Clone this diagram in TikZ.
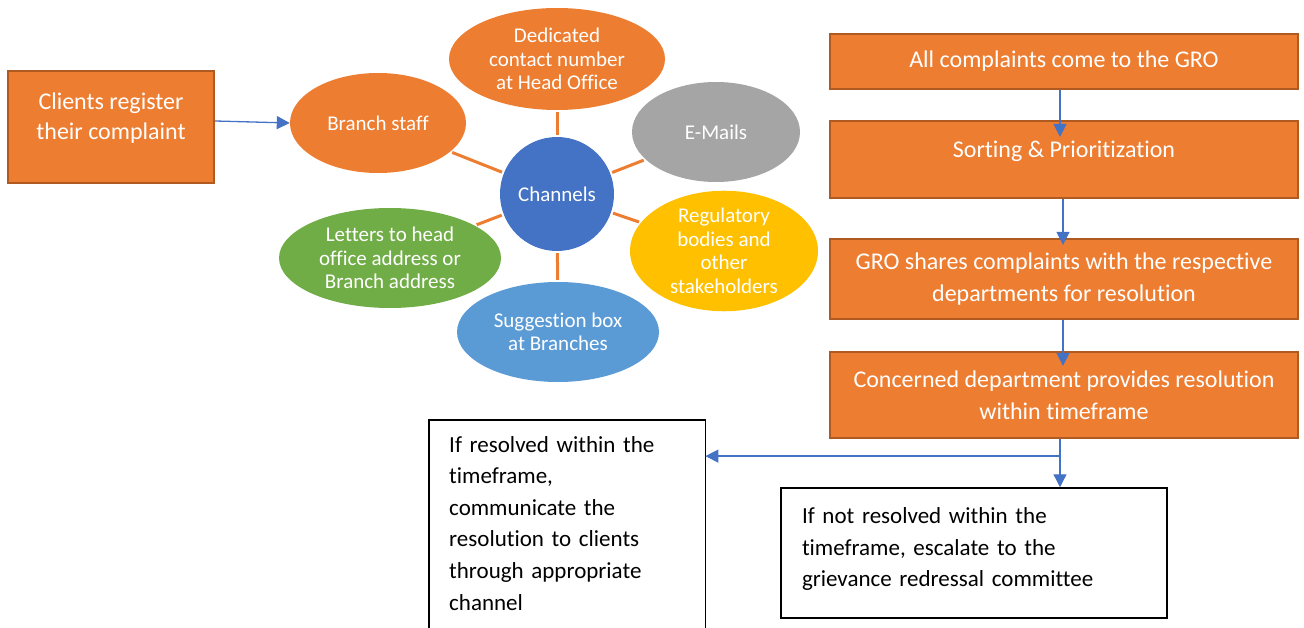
\documentclass[tikz,border=0pt]{standalone}
\usepackage{fontspec}
\setmainfont{Carlito}[Ligatures=NoCommon]
\usetikzlibrary{shapes.geometric,arrows.meta,calc}
\definecolor{orfill}{HTML}{ED7D31}
\definecolor{ordraw}{HTML}{AE5A21}
\definecolor{grayfill}{HTML}{A5A5A5}
\definecolor{goldfill}{HTML}{FFC000}
\definecolor{bluefill}{HTML}{4472C4}
\definecolor{greenfill}{HTML}{70AD47}
\definecolor{lbluefill}{HTML}{5B9BD5}
\definecolor{arrblue}{HTML}{4472C4}
\tikzset{
  obox/.style={draw=ordraw, fill=orfill, line width=2.2pt, text=white, align=center,
    font=\fontsize{24}{32}\selectfont, inner sep=0pt},
  ell/.style={ellipse, inner sep=0pt, text=white, align=center,
    font=\fontsize{21}{23.5}\selectfont},
  spoke/.style={draw=orfill, line width=3pt, shorten <=2pt, shorten >=2pt},
  arr/.style={draw=arrblue, line width=1.3pt, -{Triangle[length=13pt,width=13pt]}},
}
\begin{document}
\begin{tikzpicture}[x=1pt,y=-1pt]
\useasboundingbox (0,0) rectangle (1304,628);
\clip (0,0) rectangle (1304,628);
\hyphenpenalty=10000
% left box
\node[obox, minimum width=206pt, minimum height=112pt, font=\fontsize{24}{30}\selectfont] (clients) at (111,127) {Clients register\\their complaint\\[-8pt]\mbox{}};
% channels
\node[circle, fill=bluefill, minimum size=114pt, inner sep=0pt, text=white, font=\fontsize{21}{23.5}\selectfont] (ch) at (557,194) {Channels};
\node[ell, fill=orfill, minimum width=216pt, minimum height=102pt] (ded) at (557,59) {Dedicated\\contact number\\at Head Office};
\node[ell, fill=orfill, minimum width=176pt, minimum height=100pt] (branch) at (378,123) {Branch staff};
\node[ell, fill=grayfill, minimum width=168pt, minimum height=100pt] (mail) at (716,132) {E-Mails};
\node[ell, fill=goldfill, minimum width=188pt, minimum height=108pt] (reg) at (724,251) {Regulatory\\bodies and\\other\\stakeholders};
\node[ell, fill=greenfill, minimum width=222pt, minimum height=100pt] (let) at (390,258) {Letters to head\\office address or\\Branch address};
\node[ell, fill=lbluefill, minimum width=202pt, minimum height=100pt] (sug) at (558,332) {Suggestion box\\at Branches};
\foreach \e in {ded,branch,mail,reg,let,sug} \draw[spoke] (ch) -- (\e);
\draw[arr] ([yshift=6pt]clients.east) -- (branch.west);
% right column
\node[obox, minimum width=468pt, minimum height=55pt] (b1) at (1064,61.5) {All complaints come to the GRO};
\node[obox, minimum width=468pt, minimum height=77pt] (b2) at (1064,159.5) {Sorting \& Prioritization\\[-12pt]\mbox{}};
\node[obox, minimum width=468pt, minimum height=80pt] (b3) at (1064,279) {GRO shares complaints with the respective\\departments for resolution};
\node[obox, minimum width=468pt, minimum height=86pt] (b4) at (1064,395) {Concerned department provides resolution\\within timeframe};
\draw[arr] ([xshift=-4pt]b1.south) -- ([xshift=-4pt,yshift=-17pt]b2.north);
\draw[arr] ([xshift=-1pt]b2.south) -- ([xshift=-1pt,yshift=-7pt]b3.north);
\draw[arr] ([xshift=-1pt]b3.south) -- ([xshift=-1pt,yshift=-15pt]b4.north);
% bottom boxes
\node[draw=black, line width=1.5pt, align=left, text width=344pt, minimum height=130pt, inner xsep=21pt, font=\fontsize{23}{31.6}\selectfont] (br) at (974,553) {If not resolved within the\\timeframe, escalate to the\\grievance redressal committee\\[-20pt]\mbox{}};
\node[anchor=north west, text width=240pt, align=left, inner xsep=20pt, inner ysep=16pt, font=\fontsize{23}{31.6}\selectfont] (bl) at (429,420) {If resolved within the\\timeframe,\\communicate the\\resolution to clients\\through appropriate\\channel};
\draw[black, line width=1.5pt] ($(bl.north west)+(0,250)$) -- (bl.north west) -- ([xshift=-4pt]bl.north east) coordinate (blne) -- ($(blne)+(0,250)$);
\coordinate (split) at ($([xshift=-4pt]b4.south)+(0,17)$);
\draw[draw=arrblue, line width=1.3pt] ([xshift=-4pt]b4.south) -- (split);
\draw[arr] (split) -- (split |- br.north);
\draw[arr] (split) -- (split -| blne);
\end{tikzpicture}
\end{document}
